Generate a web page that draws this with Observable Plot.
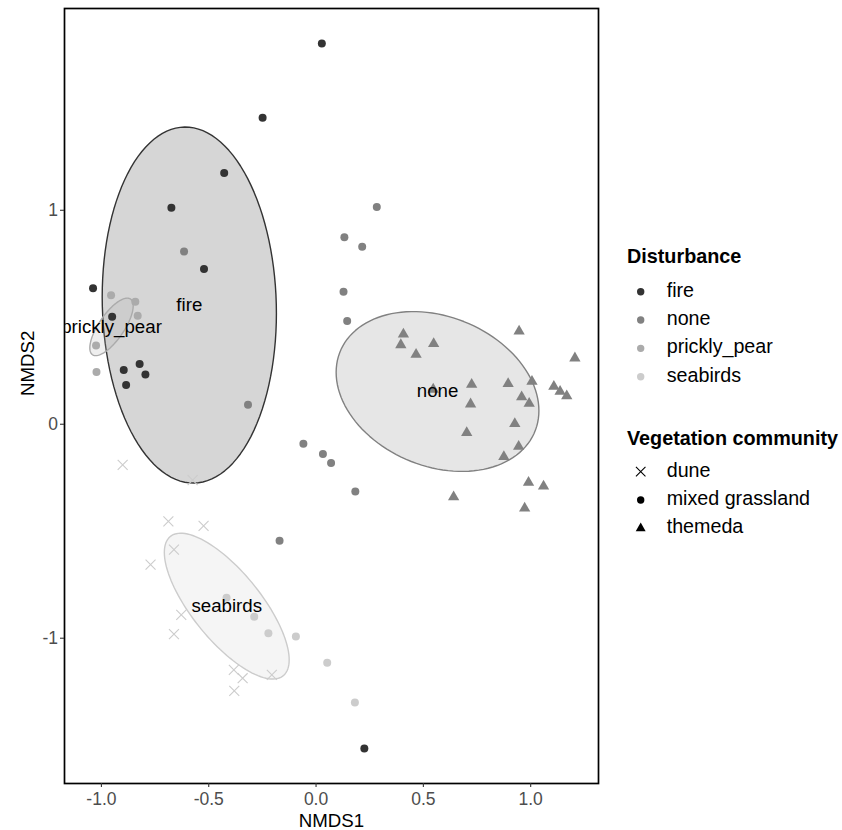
<!DOCTYPE html>
<html>
<head>
<meta charset="utf-8">
<script src="https://cdn.jsdelivr.net/npm/d3@7"></script>
<script src="https://cdn.jsdelivr.net/npm/@observablehq/plot@0.6"></script>
<style>
  body { margin: 0; background: #fff; }
  #wrap { position: relative; width: 842px; height: 830px; font-family: "Liberation Sans", Arial, sans-serif; }
  #wrap svg { display: block; }
</style>
</head>
<body>
<div id="wrap"></div>
<script>
// Disturbance groups and their grey shades
const disturbances = ["fire", "none", "prickly_pear", "seabirds"];
const greys = ["#333333", "#818181", "#ababab", "#cccccc"];

// Vegetation communities and their point shapes
const vegetation = ["dune", "mixed grassland", "themeda"];
const vegSymbols = ["times", "circle", "triangle"];

// NMDS site scores, split by disturbance and vegetation community
const fireGrassX = [0.027, -0.249, -0.428, -0.674, -1.039, -0.522, -0.950, -0.822, -0.896, -0.795, -0.885, 0.225];
const fireGrassY = [1.780, 1.432, 1.174, 1.012, 0.636, 0.725, 0.502, 0.282, 0.253, 0.232, 0.183, -1.515];

const noneGrassX = [-0.615, -0.317, 0.283, 0.132, 0.215, 0.128, 0.145, -0.059, 0.032, 0.070, 0.183, -0.170];
const noneGrassY = [0.807, 0.091, 1.015, 0.874, 0.829, 0.619, 0.483, -0.091, -0.139, -0.181, -0.314, -0.545];

const noneThemedaX = [0.407, 0.395, 0.548, 0.466, 0.946, 1.206, 0.725, 0.895, 1.006, 1.108, 1.137, 1.168,
                      0.958, 0.993, 0.720, 0.926, 0.702, 0.944, 0.875, 0.990, 1.060, 0.641, 0.972, 0.546];
const noneThemedaY = [0.421, 0.371, 0.376, 0.326, 0.435, 0.309, 0.186, 0.189, 0.200, 0.176, 0.153, 0.132,
                      0.127, 0.097, 0.094, 0.002, -0.040, -0.104, -0.152, -0.272, -0.290, -0.340, -0.393, 0.163];

const pricklyGrassX = [-0.955, -0.842, -0.831, -1.025, -1.023];
const pricklyGrassY = [0.603, 0.572, 0.507, 0.368, 0.244];

const seabirdsDuneX = [-0.901, -0.575, -0.688, -0.524, -0.662, -0.771, -0.628, -0.662, -0.383, -0.342, -0.206, -0.381];
const seabirdsDuneY = [-0.190, -0.261, -0.454, -0.475, -0.586, -0.656, -0.891, -0.981, -1.148, -1.187, -1.171, -1.246];

const seabirdsGrassX = [-0.417, -0.288, -0.222, -0.094, 0.052, 0.181];
const seabirdsGrassY = [-0.811, -0.900, -0.977, -0.992, -1.115, -1.300];

// Group ellipses: centre and covariance (NMDS units)
const ellipseGroup = ["fire", "none", "prickly_pear", "seabirds"];
const ellipseCentreX = [-0.5905, 0.566, -0.953, -0.416];
const ellipseCentreY = [0.557, 0.153, 0.455, -0.850];
const ellipseVarX = [0.1647, 0.2231, 0.0102, 0.0846];
const ellipseVarY = [0.6921, 0.1395, 0.0181, 0.1161];
const ellipseCov = [-0.0155, -0.0423, 0.0099, -0.073];

// Axis ticks
const xTicks = [-1, -0.5, 0, 0.5, 1];
const yTicks = [-1, 0, 1];

// Build the site table
function sitesOf(xs, ys, disturbance, veg) {
  return xs.map((x, i) => ({NMDS1: x, NMDS2: ys[i], disturbance, vegetation: veg}));
}
const sites = [
  ...sitesOf(fireGrassX, fireGrassY, "fire", "mixed grassland"),
  ...sitesOf(noneGrassX, noneGrassY, "none", "mixed grassland"),
  ...sitesOf(noneThemedaX, noneThemedaY, "none", "themeda"),
  ...sitesOf(pricklyGrassX, pricklyGrassY, "prickly_pear", "mixed grassland"),
  ...sitesOf(seabirdsDuneX, seabirdsDuneY, "seabirds", "dune"),
  ...sitesOf(seabirdsGrassX, seabirdsGrassY, "seabirds", "mixed grassland")
];

// Ellipse outlines from centre + covariance (Cholesky factor applied to the unit circle)
const ellipses = ellipseGroup.map((g, i) => ({
  group: g, cx: ellipseCentreX[i], cy: ellipseCentreY[i],
  sxx: ellipseVarX[i], syy: ellipseVarY[i], sxy: ellipseCov[i]
}));
const ellipsePath = ellipses.flatMap(e => {
  const l11 = Math.sqrt(e.sxx), l21 = e.sxy / l11, l22 = Math.sqrt(e.syy - l21 * l21);
  return d3.range(0, 121).map(k => {
    const t = (2 * Math.PI * k) / 120;
    const u = Math.cos(t), v = Math.sin(t);
    return {group: e.group, x: e.cx + l11 * u, y: e.cy + l21 * u + l22 * v};
  });
});

const font = '"Liberation Sans", Arial, sans-serif';

// Group names are bound to the colour scale explicitly ("none" would otherwise read as a CSS keyword)
const groupColour = {value: "disturbance", scale: "color"};
const ellipseColour = {value: "group", scale: "color"};

const chart = Plot.plot({
  width: 842,
  height: 830,
  marginLeft: 64,
  marginRight: 244,
  marginTop: 8,
  marginBottom: 47,
  style: {fontFamily: font, background: "transparent"},
  x: {domain: [-1.172, 1.316]},
  y: {domain: [-1.679, 1.943]},
  color: {domain: disturbances, range: greys},
  marks: [
    Plot.line(ellipsePath, {
      x: "x", y: "y", z: "group",
      stroke: ellipseColour, fill: ellipseColour, fillOpacity: 0.2, strokeWidth: 1.4
    }),
    Plot.dot(sites.filter(d => d.vegetation === "mixed grassland"), {
      x: "NMDS1", y: "NMDS2", fill: groupColour, symbol: "circle", r: 4
    }),
    Plot.dot(sites.filter(d => d.vegetation === "themeda"), {
      x: "NMDS1", y: "NMDS2", fill: groupColour, symbol: "triangle", r: 4.2
    }),
    Plot.dot(sites.filter(d => d.vegetation === "dune"), {
      x: "NMDS1", y: "NMDS2", stroke: groupColour, fill: "none", symbol: "times", r: 4.6, strokeWidth: 1.1
    }),
    Plot.text(ellipses, {
      x: "cx", y: "cy", text: "group", fontSize: 18.7, fill: "black", clip: true
    }),
    Plot.frame({stroke: "black", strokeWidth: 1.7}),
    Plot.axisX({
      ticks: xTicks, tickFormat: d => d.toFixed(1), tickSize: 4, tickPadding: 5.5,
      label: null, fontSize: 17.5, fill: "#4d4d4d", stroke: "#333", strokeWidth: 1.1
    }),
    Plot.axisY({
      ticks: yTicks, tickFormat: d => String(d), tickSize: 4, tickPadding: 2.5,
      label: null, fontSize: 17.5, fill: "#4d4d4d", stroke: "#333", strokeWidth: 1.1
    }),
    Plot.text(["NMDS1"], {frameAnchor: "bottom", dy: 43, text: d => d, fontSize: 18.7, fill: "black"}),
    Plot.text(["NMDS2"], {frameAnchor: "left", dx: -36, rotate: -90, text: d => d, fontSize: 18.7, fill: "black"})
  ]
});

const wrap = document.getElementById("wrap");
wrap.appendChild(chart);

// Legend, to the right of the panel
const legendSvg = d3.select(wrap).append("svg")
  .attr("width", 242).attr("height", 830)
  .style("position", "absolute").style("left", "600px").style("top", "0px")
  .style("font-family", font);

const keyX = 40.7, labelX = 66.7, step = 28.33;

function legendBlock(title, titleBaseline, firstKeyY, items) {
  legendSvg.append("text")
    .attr("x", 27).attr("y", titleBaseline)
    .attr("font-size", 19.8).attr("font-weight", "bold").attr("fill", "black")
    .text(title);
  items.forEach((it, i) => {
    const y = firstKeyY + i * step;
    const sym = d3.symbol(it.symbol, Math.PI * it.r * it.r)();
    legendSvg.append("path")
      .attr("d", sym)
      .attr("transform", `translate(${keyX},${y})`)
      .attr("fill", it.stroke ? "none" : it.color)
      .attr("stroke", it.stroke ? it.color : "none")
      .attr("stroke-width", it.stroke ? 1.1 : 0);
    legendSvg.append("text")
      .attr("x", labelX).attr("y", y + 5)
      .attr("font-size", 19.7).attr("fill", "black")
      .text(it.label);
  });
}

legendBlock("Disturbance", 263.3, 291.7,
  disturbances.map((d, i) => ({label: d, color: greys[i], symbol: d3.symbolCircle, r: 3.7})));

const d3Symbols = {times: d3.symbolTimes, circle: d3.symbolCircle, triangle: d3.symbolTriangle};
legendBlock("Vegetation community", 445, 471.7,
  vegetation.map((v, i) => ({
    label: v, color: "black", symbol: d3Symbols[vegSymbols[i]],
    r: vegSymbols[i] === "times" ? 4.4 : 3.7, stroke: vegSymbols[i] === "times"
  })));
</script>
</body>
</html>
